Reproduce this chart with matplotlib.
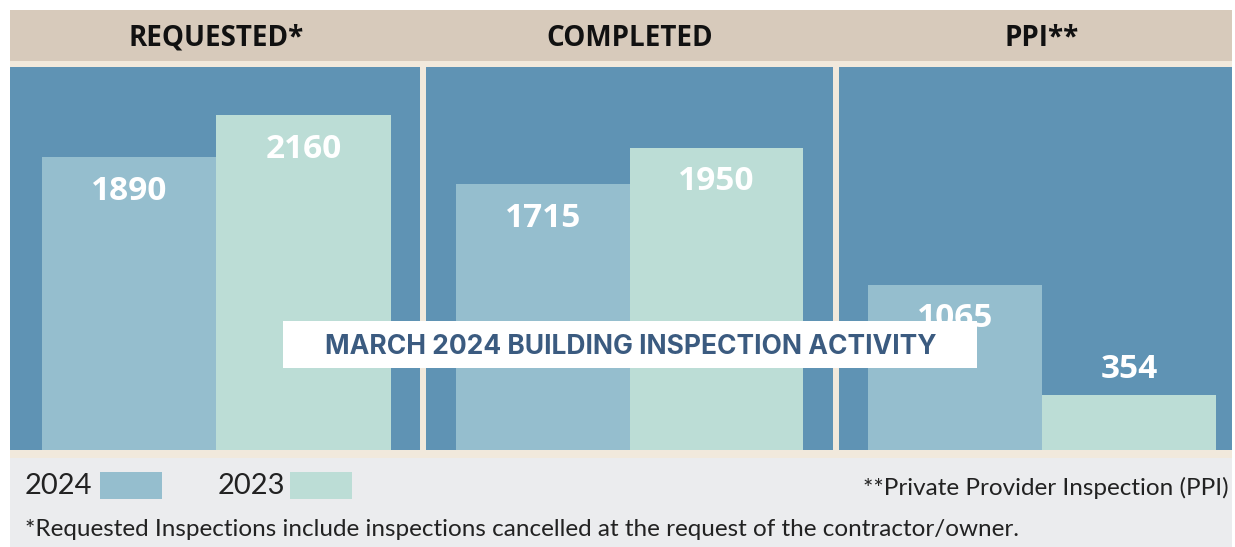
import matplotlib
matplotlib.use("Agg")
import matplotlib.pyplot as plt
from matplotlib.patches import Rectangle

# data
categories = ["REQUESTED*", "COMPLETED", "PPI**"]
years = ["2024", "2023"]
values_2024 = [1890, 1715, 1065]
values_2023 = [2160, 1950, 354]
title = "MARCH 2024 BUILDING INSPECTION ACTIVITY"
note_ppi = "**Private Provider Inspection (PPI)"
note_requested = "*Requested Inspections include inspections cancelled at the request of the contractor/owner."

# colours
c_panel = "#5f93b4"
c_2024 = "#95bece"
c_2023 = "#bcddd6"
c_header = "#d7cabb"
c_cream = "#f1e9dc"
c_footer = "#ebecee"
c_title = "#3b5b80"

W, H = 1235, 547
fig = plt.figure(figsize=(W / 100, H / 100), dpi=100, facecolor="white")


def fx(px):
    return px / W


def fy(py):
    return 1 - py / H


def fig_rect(x0, y0, x1, y1, color, z=0):
    fig.patches.append(Rectangle((fx(x0), fy(y1)), fx(x1 - x0), (y1 - y0) / H,
                                 transform=fig.transFigure, color=color,
                                 zorder=z, lw=0))


# background bands
fig_rect(10, 10, 1232, 61, c_header, z=-2)
fig_rect(10, 61, 1232, 458, c_cream, z=-2)
fig_rect(10, 458, 1232, 547, c_footer, z=-2)

# panels (pixel edges) and x limits so bars sit where they sit in the original
panel_px = [(10, 420), (426, 833), (839, 1232)]
xlims = [(-0.183, 2.166), (-0.173, 2.173), (-0.167, 2.092)]
top_px, bot_px = 67, 450
ymax = (bot_px - top_px) / 0.155

for i, cat in enumerate(categories):
    x0, x1 = panel_px[i]
    ax = fig.add_axes([fx(x0), fy(bot_px), fx(x1 - x0), (bot_px - top_px) / H])
    ax.set_xlim(*xlims[i])
    ax.set_ylim(0, ymax)
    ax.axis("off")
    ax.add_patch(Rectangle((0, 0), 1, 1, transform=ax.transAxes,
                           color=c_panel, zorder=0))
    vals = [values_2024[i], values_2023[i]]
    bars = ax.bar([0, 1], vals, width=1, align="edge",
                  color=[c_2024, c_2023], zorder=2)
    for b, v in zip(bars, vals):
        cx = b.get_x() + b.get_width() / 2
        # short bars get their label above the bar
        dy = -34 if v > 600 else 26
        ax.annotate(str(v), (cx, v), xytext=(0, dy), textcoords="offset pixels",
                    ha="center", va="center", color="white", fontsize=24,
                    fontweight="bold", family="Open Sans", zorder=3)
    # header label centred over the pair of bars
    hx = fig.transFigure.inverted().transform(ax.transData.transform((1, 0)))[0]
    fig.text(hx, fy(38), cat, ha="center", va="center", fontsize=20,
             fontweight="bold", family="Open Sans", color="#111111")

# title box
fig_rect(283, 321, 977, 368, "white", z=5)
fig.text(fx(631), fy(347), title, ha="center", va="center", fontsize=19,
         fontweight="bold", family="Inter", color=c_title, zorder=6)

# legend
legend_px = [(25, 100), (218, 290)]
leg_colors = [c_2024, c_2023]
for (tx, px), yr, col in zip(legend_px, years, leg_colors):
    fig.text(fx(tx), fy(486), yr, ha="left", va="center", fontsize=21,
             family="Lato", color="#222222")
    fig_rect(px, 472, px + 62, 499, col, z=1)

fig.text(fx(1229), fy(488), note_ppi, ha="right", va="center", fontsize=17.5,
         family="Lato", color="#222222")
fig.text(fx(25), fy(530), note_requested, ha="left", va="center", fontsize=17.5,
         family="Lato", color="#222222")

fig.savefig("out.png", dpi=100, facecolor="white")
